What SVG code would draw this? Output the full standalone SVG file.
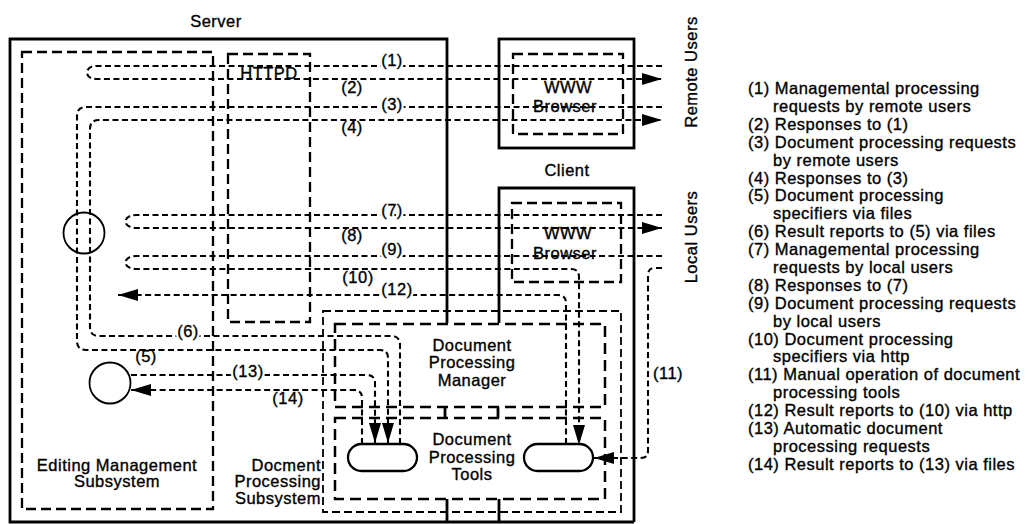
<svg xmlns="http://www.w3.org/2000/svg" width="1031" height="524" viewBox="0 0 1031 524">
<style>
text { font-family: "Liberation Sans", Arial, sans-serif; font-size: 16.5px; fill: #000; letter-spacing: 0.5px; stroke: #000; stroke-width: 0.35px; }
.c { text-anchor: middle; }
.e { text-anchor: end; }
.solid { fill: none; stroke: #000; stroke-width: 2.8; }
.box { fill: none; stroke: #000; stroke-width: 2.3; stroke-dasharray: 10 5; }
.boxt { fill: none; stroke: #000; stroke-width: 1.8; stroke-dasharray: 8 4; }
.boxm { fill: none; stroke: #000; stroke-width: 2.5; stroke-dasharray: 11 6; }
.flow { fill: none; stroke: #000; stroke-width: 2.1; stroke-dasharray: 6 3.5; }
.arr { marker-end: url(#ah); }
.halo { stroke: #fff; stroke-width: 5px; stroke-linejoin: round; fill: #fff; }
.tool { fill: none; stroke: #000; stroke-width: 2.3; }
.circ { fill: none; stroke: #000; stroke-width: 1.8; }
</style>
<defs>
<marker id="ah" viewBox="0 0 20 12" refX="20" refY="6" markerWidth="20" markerHeight="12" markerUnits="userSpaceOnUse" orient="auto"><path d="M0,0 L20,6 L0,12 z" fill="#000" stroke="none"/></marker>
</defs>
<rect width="1031" height="524" fill="#fff"/>

<g id="server">
<path class="solid" d="M447 323 L447 39 L10 39 L10 522 L634 522"/>
<path class="solid" d="M447 499 L447 522 M445 407 L445 418"/>
<text class="c" x="216" y="27">Server</text>
</g>
<g id="client">
<rect class="solid" x="499" y="39" width="135" height="109"/>
<path class="solid" d="M499 323 L499 188 L634 188 L634 522"/>
<path class="solid" d="M499 499 L499 522 M498 407 L498 418"/>
<text class="c" x="567" y="176">Client</text>
</g>
<g id="editing-management">
<rect class="box" x="22" y="52" width="191" height="457"/>
<text class="c" x="117" y="471">Editing Management</text>
<text class="c" x="117" y="487">Subsystem</text>
</g>
<g id="httpd">
<rect class="box" x="228" y="54" width="82" height="268"/>
</g>
<g id="browser-remote">
<rect class="box" x="513" y="54" width="110" height="80"/>
</g>
<g id="browser-local">
<rect class="box" x="512" y="203" width="109" height="79"/>
</g>
<g id="doc-processing-subsystem">
<rect class="boxt" x="323" y="311" width="298" height="201"/>
<text class="e" x="321" y="471">Docment</text>
<text class="e" x="321" y="487">Processing</text>
<text class="e" x="321" y="504">Subsystem</text>
</g>
<g id="doc-processing-manager">
<rect class="boxm" x="335" y="324" width="270" height="83"/>
<text class="c" x="472" y="351">Document</text>
<text class="c" x="472" y="368">Processing</text>
<text class="c" x="472" y="386">Manager</text>
</g>
<g id="doc-processing-tools">
<rect class="boxm" x="335" y="418" width="270" height="81"/>
<text class="c" x="472" y="445">Document</text>
<text class="c" x="472" y="463">Processing</text>
<text class="c" x="472" y="480">Tools</text>
</g>
<g id="tool-left">
<rect class="tool" x="348" y="444" width="69" height="27" rx="13.5"/>
</g>
<g id="tool-right">
<rect class="tool" x="524" y="444" width="69" height="27" rx="13.5"/>
</g>
<g id="store-upper">
<circle class="circ" cx="84" cy="233" r="20.5"/>
</g>
<g id="store-lower">
<circle class="circ" cx="110" cy="383" r="20.5"/>
</g>
<g id="remote-users">
<text class="c" transform="rotate(-90 697 72)" x="697" y="72">Remote Users</text>
</g>
<g id="local-users">
<text class="c" transform="rotate(-90 697 237)" x="697" y="237">Local Users</text>
</g>

<g id="connectors">
<path class="flow arr" d="M662 66 L96 66 C84 66 84 79 96 79 L662 79"/>
<path class="flow arr" d="M662 107 L86 107 Q77 107 77 116 L77 341 Q77 350 86 350 L380 350 Q388 350 388 358 L388 443"/>
<path class="flow arr" d="M400 444 L400 345 Q400 336 391 336 L99 336 Q90 336 90 327 L90 129 Q90 120 99 120 L662 120"/>
<path class="flow arr" d="M662 215 L136 215 C122 215 122 228 136 228 L662 228"/>
<path class="flow arr" d="M662 256 L136 256 C122 256 122 269 136 269 L571 269 Q579 269 579 277 L579 445"/>
<path class="flow arr" d="M566 444 L566 303 Q566 295 558 295 L118 295"/>
<path class="flow arr" d="M662 268 L655 268 Q648 268 648 275 L648 451 Q648 458 641 458 L594 458"/>
<path class="flow arr" d="M131 375 L367 375 Q375 375 375 383 L375 443"/>
<path class="flow arr" d="M362 444 L362 398 Q362 390 354 390 L131 390"/>
<g class="halo">
<text class="c halo" x="392" y="66">(1)</text>
<text class="c halo" x="392" y="110">(3)</text>
<text class="c halo" x="188" y="337">(6)</text>
<text class="c halo" x="392" y="216">(7)</text>
<text class="c halo" x="392" y="255">(9)</text>
<text class="c halo" x="397" y="295">(12)</text>
<text class="c halo" x="248" y="377">(13)</text>
</g>
<text class="c" x="392" y="66">(1)</text>
<text class="c" x="352" y="93">(2)</text>
<text class="c" x="392" y="110">(3)</text>
<text class="c" x="352" y="133">(4)</text>
<text class="c" x="146" y="362">(5)</text>
<text class="c" x="188" y="337">(6)</text>
<text class="c" x="392" y="216">(7)</text>
<text class="c" x="352" y="241">(8)</text>
<text class="c" x="392" y="255">(9)</text>
<text class="c" x="358" y="283">(10)</text>
<text class="c" x="668" y="379">(11)</text>
<text class="c" x="397" y="295">(12)</text>
<text class="c" x="248" y="377">(13)</text>
<text class="c" x="288" y="404">(14)</text>
</g>

<g id="node-labels">
<text class="c" x="269" y="79">HTTPD</text>
<text class="c" x="568" y="93">WWW</text>
<text class="c" x="565" y="112">Browser</text>
<text class="c" x="568" y="239">WWW</text>
<text class="c" x="565" y="259">Browser</text>
</g>

<g id="legend">
<text x="748" y="94">(1) Managemental processing</text>
<text x="773" y="112">requests by remote users</text>
<text x="748" y="130">(2) Responses to (1)</text>
<text x="748" y="148">(3) Document processing requests</text>
<text x="773" y="166">by remote users</text>
<text x="748" y="184">(4) Responses to (3)</text>
<text x="748" y="201">(5) Document processing</text>
<text x="773" y="219">specifiers via files</text>
<text x="748" y="237">(6) Result reports to (5) via files</text>
<text x="748" y="255">(7) Managemental processing</text>
<text x="773" y="273">requests by local users</text>
<text x="748" y="291">(8) Responses to (7)</text>
<text x="748" y="309">(9) Document processing requests</text>
<text x="773" y="327">by local users</text>
<text x="748" y="345">(10) Document processing</text>
<text x="773" y="362">specifiers via http</text>
<text x="748" y="380">(11) Manual operation of document</text>
<text x="773" y="398">processing tools</text>
<text x="748" y="416">(12) Result reports to (10) via http</text>
<text x="748" y="434">(13) Automatic document</text>
<text x="773" y="452">processing requests</text>
<text x="748" y="470">(14) Result reports to (13) via files</text>
</g>
</svg>
